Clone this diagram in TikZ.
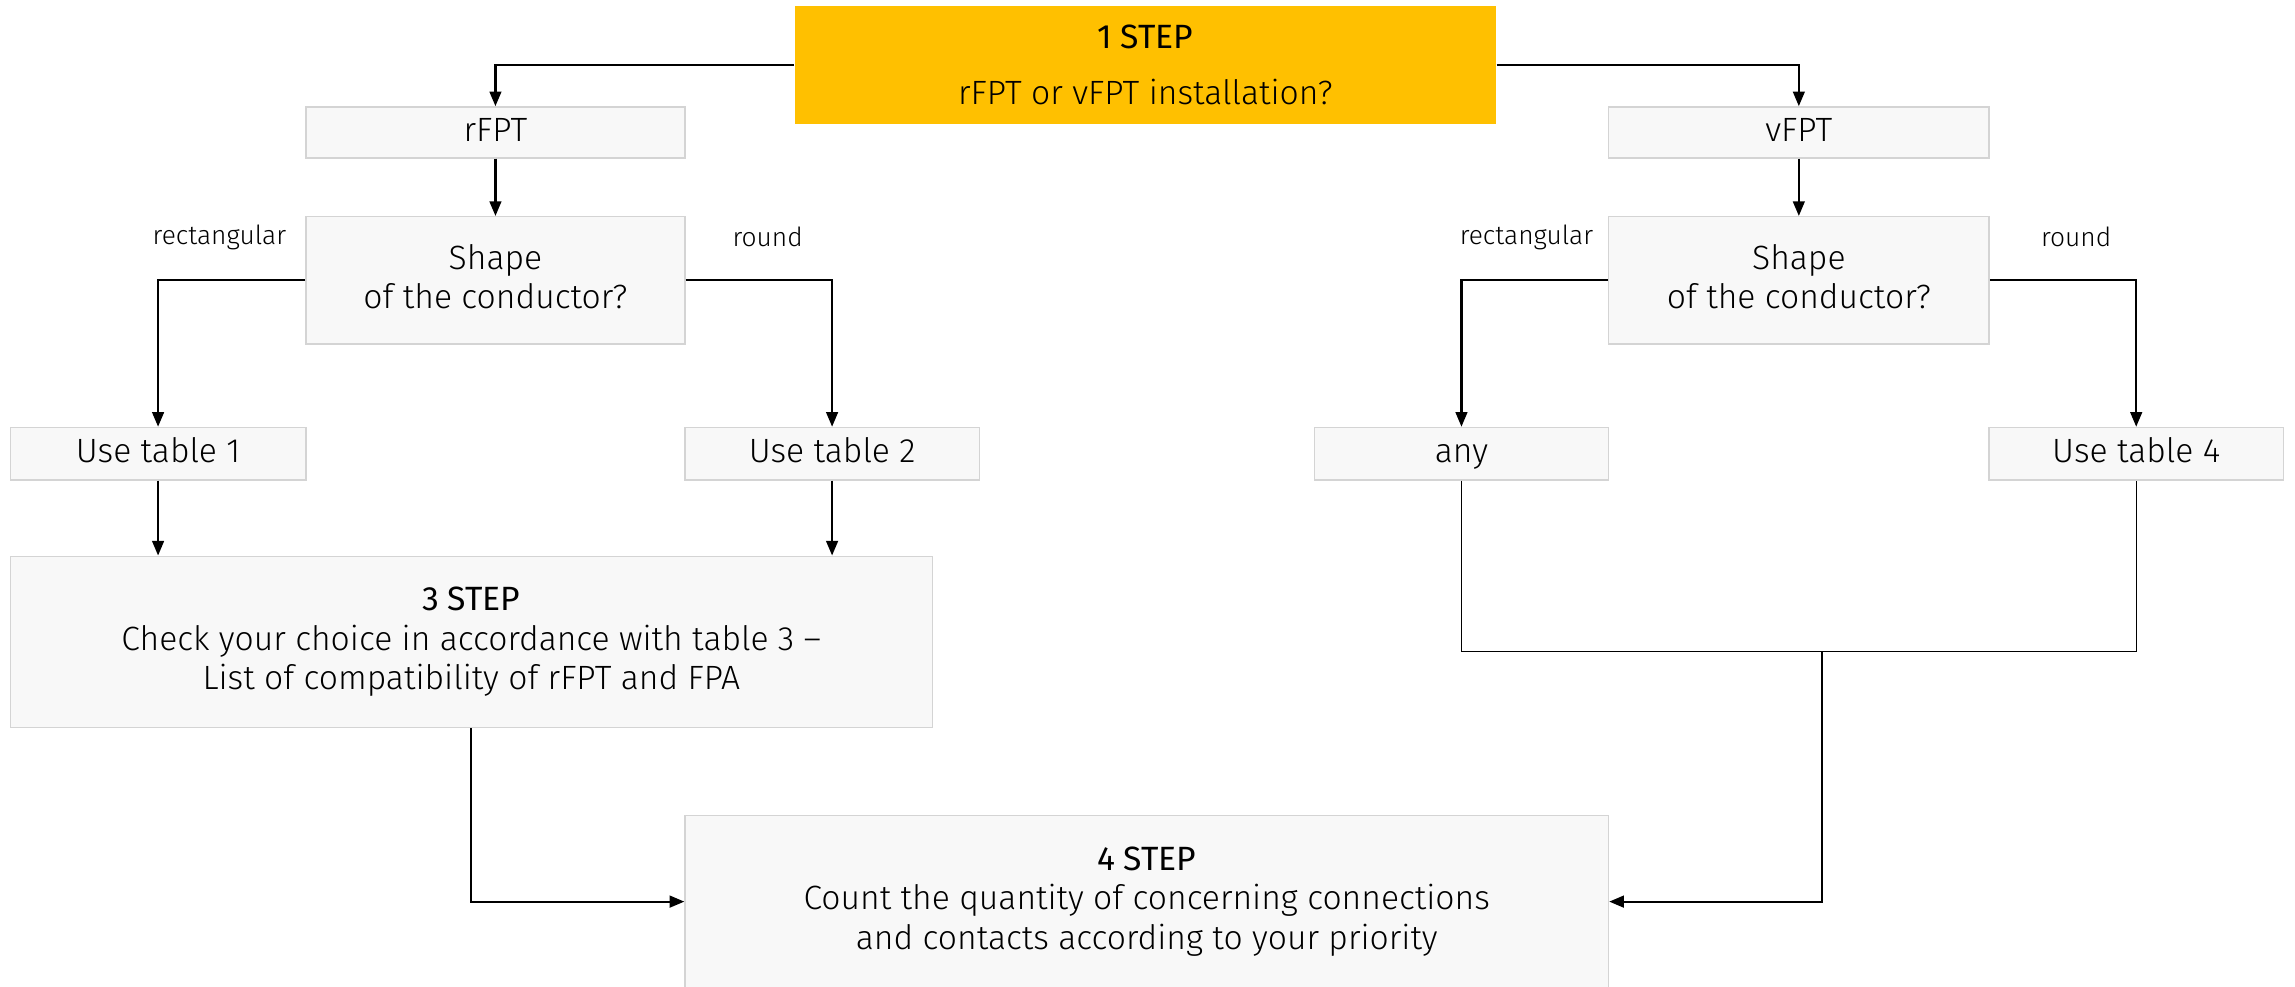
\documentclass[tikz,border=0pt]{standalone}
\usepackage{fontspec}
\setmainfont{Fira Sans Light}
\newfontfamily\headfont{Fira Sans}
\usetikzlibrary{arrows.meta}

\definecolor{stepcolor}{HTML}{FFC000}
\definecolor{boxfill}{HTML}{F8F8F8}
\definecolor{boxline}{HTML}{D4D4D4}

\begin{document}
\begin{tikzpicture}[x=1pt,y=-1pt]
  % Styles
  \tikzstyle{box}=[draw=boxline,fill=boxfill,line width=0.9pt,inner sep=0pt,align=center,
                   font=\fontsize{23}{27}\selectfont]
  \tikzstyle{small box}=[box,text height=16pt,text depth=4pt]
  \tikzstyle{shape box}=[box,minimum height=87,text depth=5pt]
  \tikzstyle{step box}=[box,fill=stepcolor,draw=none]
  \tikzstyle{choice text}=[font=\fontsize{18}{20}\selectfont]
  \tikzstyle{flow line}=[line width=1.5pt,-{Triangle[length=10pt,width=8pt]}]
  \tikzstyle{join line}=[line width=0.8pt]

  \useasboundingbox (0,0) rectangle (1568,674);
  \clip (0,0) rectangle (1568,674);

  % Step 1
  \node[step box,minimum width=479,minimum height=81] (step1) at (782.5,44.5)
        {{\headfont 1 STEP}\\[11pt]rFPT or vFPT installation?};

  % rFPT side
  \node[small box,minimum width=259,minimum height=35] (rfpt) at (338.5,90.5) {rFPT};
  \node[shape box,minimum width=259] (shapeL) at (338.5,191.5)
        {Shape\\of the conductor?};
  \node[choice text,anchor=east] (rectL) at (199,162) {rectangular};
  \node[choice text,anchor=west] (roundL) at (497,162) {round};
  \node[small box,minimum width=202,minimum height=36] (tab1) at (108,310) {Use table 1};
  \node[small box,minimum width=201,minimum height=36] (tab2) at (568.5,310) {Use table 2};
  \node[box,minimum width=630,minimum height=117] (step3) at (322,438.5)
        {{\headfont 3 STEP}\\Check your choice in accordance with table 3 --\\List of compatibility of rFPT and FPA};

  % vFPT side
  \node[small box,minimum width=260,minimum height=35] (vfpt) at (1229,90.5) {vFPT};
  \node[shape box,minimum width=260] (shapeR) at (1229,191.5)
        {Shape\\of the conductor?};
  \node[choice text,anchor=east] (rectR) at (1092,162) {rectangular};
  \node[choice text,anchor=west] (roundR) at (1391,162) {round};
  \node[small box,minimum width=201,minimum height=36] (any) at (998.5,310) {any};
  \node[small box,minimum width=201,minimum height=36] (tab4) at (1459.5,310) {Use table 4};

  % Step 4
  \node[box,minimum width=631,minimum height=160] (step4) at (783.5,637) {};
  \node[align=center,font=\fontsize{23}{27}\selectfont] (step4txt) at (783.5,616)
        {{\headfont 4 STEP}\\Count the quantity of concerning connections\\and contacts according to your priority};

  % Connectors
  \draw[flow line] (step1.west) -| (rfpt.north);
  \draw[flow line] (step1.east) -| (vfpt.north);
  \draw[flow line] (rfpt.south) -- (rfpt.south |- shapeL.north);
  \draw[flow line] (vfpt.south) -- (vfpt.south |- shapeR.north);
  \draw[flow line] (shapeL.west) -| (tab1.north);
  \draw[flow line] (shapeL.east) -| (tab2.north);
  \draw[flow line] (shapeR.west) -| (any.north);
  \draw[flow line] (shapeR.east) -| (tab4.north);
  \draw[flow line] (tab1.south) -- (tab1.south |- step3.north);
  \draw[flow line] (tab2.south) -- (tab2.south |- step3.north);
  \draw[flow line] (step3.south) |- (step4txt -| step4.west);

  \coordinate (merge) at (1245,445);
  \draw[join line] (any.south) |- (merge) -| (tab4.south);
  \draw[flow line] (merge) |- (step4txt -| step4.east);
\end{tikzpicture}
\end{document}
